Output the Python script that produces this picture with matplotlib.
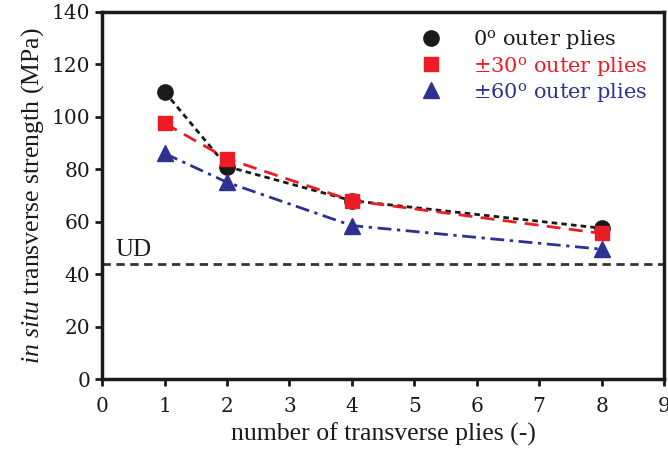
import matplotlib

matplotlib.use("Agg")
import matplotlib.pyplot as plt


# number of transverse plies and in situ strength (MPa) per outer-ply layup
plies = [1, 2, 4, 8]
strength_0 = [109.5, 81.0, 68.0, 57.5]
strength_30 = [97.5, 84.0, 68.0, 55.5]
strength_60 = [86.0, 75.0, 58.5, 49.5]
ud_strength = 44.0

series_labels = [
    r"0$^{\mathrm{o}}$ outer plies",
    r"$\pm$30$^{\mathrm{o}}$ outer plies",
    r"$\pm$60$^{\mathrm{o}}$ outer plies",
]

plt.rcParams["font.family"] = ["Liberation Serif", "DejaVu Serif"]
plt.rcParams["mathtext.fontset"] = "custom"
plt.rcParams["mathtext.rm"] = "DejaVu Serif"
plt.rcParams["mathtext.it"] = "Liberation Serif:italic"

BLACK = "#1a1a1a"
RED = "#ed1c24"
BLUE = "#2e3192"

fig = plt.figure(figsize=(6.68, 4.55), dpi=100)
ax = fig.add_axes([0.153, 0.167, 0.841, 0.807])

ax.axhline(ud_strength, color="#333333", linewidth=2, dashes=(3, 2), zorder=1)
ax.text(0.22, ud_strength + 3, "UD", fontsize=18, color=BLACK)

ax.plot(plies, strength_0, color=BLACK, linewidth=2, dashes=(2, 1.5),
        marker="o", markersize=11, label=series_labels[0], zorder=3)
ax.plot(plies, strength_30, color=RED, linewidth=2, dashes=(5, 3),
        marker="s", markersize=10, label=series_labels[1], zorder=4)
ax.plot(plies, strength_60, color=BLUE, linewidth=2, dashes=(5, 2, 1.2, 2),
        marker="^", markersize=11, label=series_labels[2], zorder=5)

ax.set_xlim(0, 9)
ax.set_ylim(0, 140)
ax.set_xticks(range(0, 10))
ax.set_yticks(range(0, 141, 20))
ax.tick_params(direction="out", length=5, width=2, labelsize=14.5,
               color=BLACK, labelcolor=BLACK)
ax.tick_params(axis="x", pad=8)
for label in ax.get_xticklabels() + ax.get_yticklabels():
    label.set_fontfamily("DejaVu Serif")
for spine in ax.spines.values():
    spine.set_linewidth(2.5)
    spine.set_color(BLACK)

ax.set_xlabel("number of transverse plies (-)", fontsize=18.5, color=BLACK,
              labelpad=5)
ax.set_ylabel(r"$\mathit{in\ situ}$ transverse strength (MPa)", fontsize=18.5,
              color=BLACK, labelpad=4)

leg = ax.legend(loc="upper right", frameon=False,
                prop={"family": "DejaVu Serif", "size": 15},
                handlelength=1.0, handletextpad=1.5, labelspacing=0.15,
                borderaxespad=0.4)
for text, color in zip(leg.get_texts(), [BLACK, RED, BLUE]):
    text.set_color(color)
for handle in leg.legend_handles:
    handle.set_linestyle("none")

fig.savefig("out.png", dpi=100)
plt.close(fig)
